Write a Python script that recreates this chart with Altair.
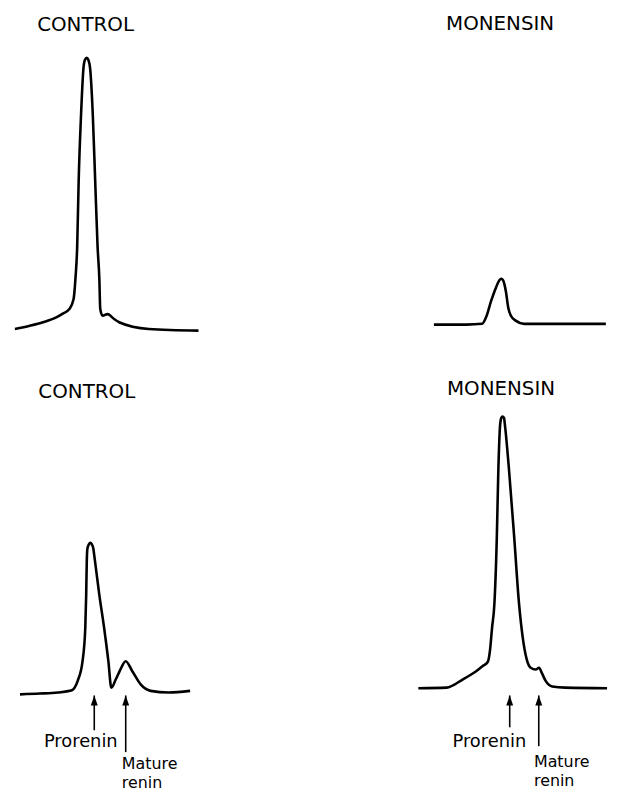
import altair as alt
import pandas as pd

# ---- data (migration distance, arbitrary units 0-100; absorbance, arbitrary units) ----
# Top-left: CONTROL
tl_x = [2.3, 7.3, 11.7, 16.1, 18.3, 20.5, 21.9, 22.5, 23.1, 23.6, 24.4, 25.2, 25.7, 26.3,
        26.8, 27.4, 28.3, 29.1, 29.9, 30.5, 30.8, 31.6, 33.2, 35.4, 37.1, 47.0, 63.6]
tl_y = [-0.5, 0.7, 2.0, 3.8, 5.2, 6.9, 10.6, 17.9, 30.2, 54.7, 79.2, 96.3, 99.3, 100.0,
        99.3, 96.3, 79.2, 54.7, 30.2, 17.9, 6.9, 4.4, 5.0, 3.2, 2.0, -0.5, -1.1]

# Top-right: MONENSIN
tr_x = [42.2, 53.0, 58.3, 59.6, 61.3, 62.9, 64.0, 64.7, 65.3, 66.2, 67.0, 67.9, 69.5, 72.3, 86.1, 99.6]
tr_y = [1.1, 1.1, 1.4, 3.8, 9.9, 14.8, 17.5, 18.1, 17.5, 13.6, 7.5, 4.4, 2.6, 1.4, 1.4, 1.4]

# Bottom-left: CONTROL
bl_x = [4.0, 10.6, 16.6, 21.1, 23.3, 24.9, 25.8, 26.1, 26.3, 26.5, 27.0, 27.5, 28.0, 28.5,
        28.8, 30.5, 32.1, 33.5, 34.5, 36.0, 37.4, 39.3, 41.5, 44.3, 47.6, 53.6, 60.8]
bl_y = [-1.4, -1.1, -0.7, 0.0, 3.7, 11.0, 23.2, 35.4, 47.8, 52.6, 54.2, 54.8, 54.2, 52.6,
        50.1, 35.4, 23.2, 11.0, 1.1, 4.2, 7.5, 10.9, 7.2, 2.3, -0.1, -0.7, -0.1]

# Bottom-right: MONENSIN
br_x = [37.0, 46.4, 51.9, 56.3, 58.6, 60.2, 60.9, 61.6, 62.4, 63.2, 63.7, 64.3, 64.7, 65.1,
        65.6, 65.9, 67.3, 69.0, 70.6, 71.8, 73.2, 74.5, 76.2, 77.3, 78.2, 79.5, 81.7, 86.1, 100.0]
br_y = [0.9, 1.1, 4.2, 7.2, 9.2, 10.7, 14.7, 23.2, 32.4, 56.9, 81.4, 98.5, 101.1, 101.6,
        101.1, 98.5, 81.4, 56.9, 32.4, 20.1, 11.5, 8.5, 7.8, 8.5, 6.6, 3.6, 1.5, 1.1, 0.9]

# Panel titles
titles = ["CONTROL", "MONENSIN", "CONTROL", "MONENSIN"]
title_x = [25.9, 64.3, 26.3, 64.6]
title_y = [110.0, 110.4, 108.3, 109.6]

# Arrows (position, tip, tail) for bottom panels
bl_arrow_x = [28.8, 39.3]
bl_arrow_tip = [-1.8, -1.8]
bl_arrow_tail = [-14.7, -22.8]
br_arrow_x = [67.5, 77.2]
br_arrow_tip = [-1.8, -1.8]
br_arrow_tail = [-13.6, -20.6]

# Arrow labels
bl_center_labels = ["Prorenin"]; bl_center_x = [24.3]; bl_center_y = [-21.0]
bl_left_labels = ["Mature\nrenin"]; bl_left_x = [38.0]; bl_left_y = [-29.0]
br_center_labels = ["Prorenin"]; br_center_x = [60.7]; br_center_y = [-20.8]
br_left_labels = ["Mature\nrenin"]; br_left_x = [75.6]; br_left_y = [-28.3]

# ---- layout ----
W = 302
H_TOP = 334
H_BOT = 445
Y_TOP = [-5.51, 117.28]
Y_BOT = [-34.56, 129.04]
FONT = "DejaVu Sans"
ARROW_HEAD = "M0,0L0.7,2L-0.7,2Z"


def panel(x, y, title, tx, ty, h, ydom, arrows=None, clabels=None, llabels=None):
    xs = alt.Scale(domain=[0, 100], nice=False, zero=False)
    ys = alt.Scale(domain=ydom, nice=False, zero=False)
    X = lambda f: alt.X(f, type="quantitative", scale=xs, axis=None)
    Y = lambda f: alt.Y(f, type="quantitative", scale=ys, axis=None)

    trace = alt.Chart(pd.DataFrame({"x": x, "y": y})).mark_line(
        color="black", strokeWidth=2.6, interpolate="monotone"
    ).encode(x=X("x"), y=Y("y"))

    ttl = alt.Chart(pd.DataFrame({"x": [tx], "y": [ty], "t": [title]})).mark_text(
        font=FONT, fontSize=20, align="center", baseline="alphabetic", color="black"
    ).encode(x=X("x"), y=Y("y"), text="t:N")

    layers = [trace, ttl]
    if arrows:
        ax, tip, tail = arrows
        adf = pd.DataFrame({"x": ax, "tip": tip, "tail": tail})
        shaft = alt.Chart(adf).mark_rule(color="black", strokeWidth=1.6).encode(
            x=X("x"), y=Y("tail"), y2="tip")
        head = alt.Chart(adf).mark_point(
            shape=ARROW_HEAD, size=100, filled=True, color="black", opacity=1, strokeWidth=0
        ).encode(x=X("x"), y=Y("tip"))
        layers += [shaft, head]
    if clabels:
        t, lx, ly = clabels
        layers.append(alt.Chart(pd.DataFrame({"x": lx, "y": ly, "t": t})).mark_text(
            font=FONT, fontSize=18, align="center", baseline="alphabetic", color="black"
        ).encode(x=X("x"), y=Y("y"), text="t:N"))
    if llabels:
        t, lx, ly = llabels
        layers.append(alt.Chart(pd.DataFrame({"x": lx, "y": ly, "t": t})).mark_text(
            font=FONT, fontSize=16, align="left", baseline="alphabetic", color="black",
            lineBreak="\n", lineHeight=19
        ).encode(x=X("x"), y=Y("y"), text="t:N"))
    return alt.layer(*layers).properties(width=W, height=h)


tl = panel(tl_x, tl_y, titles[0], title_x[0], title_y[0], H_TOP, Y_TOP)
tr = panel(tr_x, tr_y, titles[1], title_x[1], title_y[1], H_TOP, Y_TOP)
bl = panel(bl_x, bl_y, titles[2], title_x[2], title_y[2], H_BOT, Y_BOT,
           arrows=(bl_arrow_x, bl_arrow_tip, bl_arrow_tail),
           clabels=(bl_center_labels, bl_center_x, bl_center_y),
           llabels=(bl_left_labels, bl_left_x, bl_left_y))
br = panel(br_x, br_y, titles[3], title_x[3], title_y[3], H_BOT, Y_BOT,
           arrows=(br_arrow_x, br_arrow_tip, br_arrow_tail),
           clabels=(br_center_labels, br_center_x, br_center_y),
           llabels=(br_left_labels, br_left_x, br_left_y))

chart = alt.vconcat(
    alt.hconcat(tl, tr, spacing=0),
    alt.hconcat(bl, br, spacing=0),
    spacing=0,
).properties(padding=0, background="white").configure_view(stroke=None)

chart.save("out.html", embed_options={"renderer": "svg", "actions": False})
